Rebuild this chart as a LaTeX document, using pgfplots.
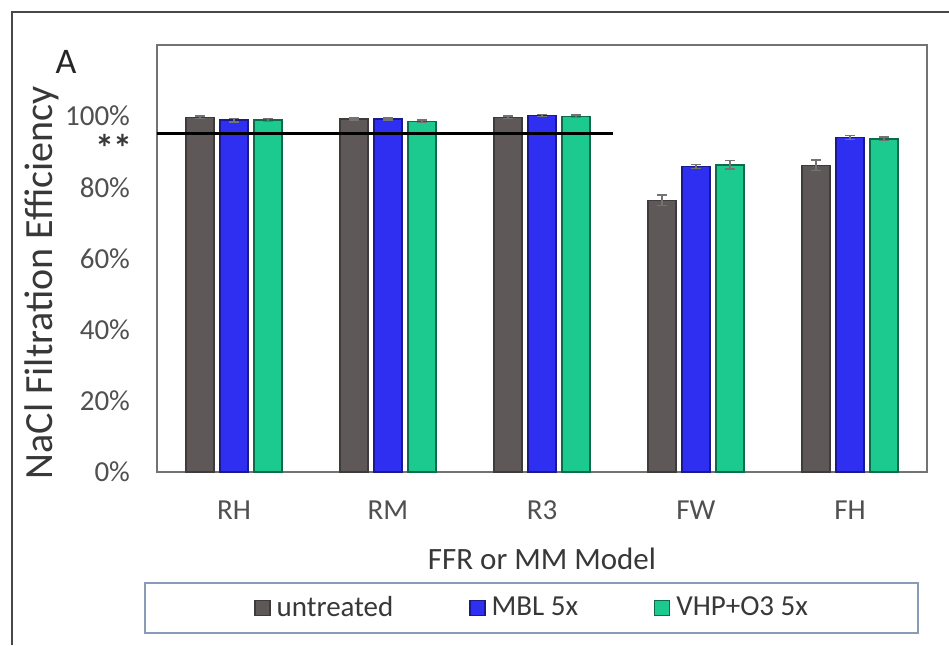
\documentclass[border=0pt]{standalone}
\usepackage{pgfplots}
\pgfplotsset{compat=1.18}
\usepackage{pgfplotstable}
\usepackage{fontspec}
\setmainfont{Carlito}
\definecolor{cgray}{HTML}{5E5858}
\definecolor{cgrayd}{HTML}{3F3B3B}
\definecolor{cblue}{HTML}{2F2FF2}
\definecolor{cblued}{HTML}{1A1A8C}
\definecolor{cgreen}{HTML}{1CC98E}
\definecolor{cgreend}{HTML}{0E6B4A}
\definecolor{ticktext}{HTML}{505050}
\definecolor{titletext}{HTML}{383838}
\definecolor{legbox}{HTML}{8A9BB5}

\pgfplotstableread{
x un mbl vhp eun embl evhp
0 99.7 98.9 98.9 0.3 0.5 0.4
1 99.2 99.2 98.6 0.3 0.3 0.3
2 99.7 100.2 100.0 0.3 0.3 0.3
3 76.4 85.9 86.3 1.5 0.6 1.2
4 86.2 94.0 93.6 1.5 0.5 0.5
}\datatable

\begin{document}
\begin{tikzpicture}[x=1pt,y=1pt]
\useasboundingbox (0,0) rectangle (474.5,322.5);
\fill[white] (0,0) rectangle (474.5,322.5);
\draw[line width=1.2pt, color=black!72] (6,0) -- (6,316.5) -- (474.5,316.5);
\draw[color=legbox, line width=0.8pt, fill=white] (72.5,6) rectangle (459,31);
\begin{axis}[
  at={(78.5pt,86.5pt)}, anchor=south west, scale only axis,
  width=385pt, height=213.5pt,
  ybar=3pt, bar width=14pt,
  xmin=-0.5, xmax=4.5, ymin=0, ymax=120,
  xtick={0,1,2,3,4}, xticklabels={RH,RM,R3,FW,FH},
  ytick={0,20,40,60,80,100}, yticklabels={0\%,20\%,40\%,60\%,80\%,100\%},
  major tick length=0pt,
  axis line style={draw=black!55, line width=1pt},
  /pgf/number format/assume math mode=true,
  tick label style={font=\fontsize{14.5}{16}\selectfont, text=ticktext},
  xticklabel style={yshift=-11pt},
  yticklabel style={xshift=-10pt},
  ylabel={NaCl Filtration Efficiency},
  ylabel style={at={(axis description cs:-0.149,0.443)}, anchor=center, font=\fontsize{20}{24}\selectfont, text=titletext},
  xlabel={FFR or MM Model},
  xlabel style={at={(axis description cs:0.5,-0.203)}, anchor=center, font=\fontsize{15.5}{18}\selectfont, text=titletext},
  legend columns=3,
  legend style={at={(axis description cs:0.486,-0.3185)}, anchor=center, draw=none, fill=none,
    font=\fontsize{14.5}{17}\selectfont, text=titletext, inner sep=0pt,
    nodes={inner sep=0pt},
    /tikz/every odd column/.append style={column sep=3pt},
    /tikz/every even column/.append style={column sep=38pt}},
  legend image code/.code={\fill[#1] (0pt,-3.8pt) rectangle (7.5pt,3.8pt);},
  error bars/error bar style={black!55, line width=0.7pt},
  error bars/error mark options={rotate=90, mark size=2.5pt, black!55, line width=0.7pt},
]
\addplot[fill=cgray, draw=cgrayd, line width=0.6pt, error bars/.cd, y dir=both, y explicit]
  table[x=x, y=un, y error=eun]{\datatable};
\addlegendentry{untreated}
\addplot[fill=cblue, draw=cblued, line width=0.6pt, error bars/.cd, y dir=both, y explicit]
  table[x=x, y=mbl, y error=embl]{\datatable};
\addlegendentry{MBL 5x}
\addplot[fill=cgreen, draw=cgreend, line width=0.6pt, error bars/.cd, y dir=both, y explicit]
  table[x=x, y=vhp, y error=evhp]{\datatable};
\addlegendentry{VHP+O3 5x}
\draw[black, line width=1.5pt] (axis cs:-0.5,95) -- (axis cs:2.46,95);
\end{axis}
\node[font=\fontsize{18}{21}\selectfont, text=black!85] at (33,291.75) {A};
\node[font=\bfseries\fontsize{19}{22}\selectfont, text=titletext] at (57,248.5) {**};
\end{tikzpicture}
\end{document}
